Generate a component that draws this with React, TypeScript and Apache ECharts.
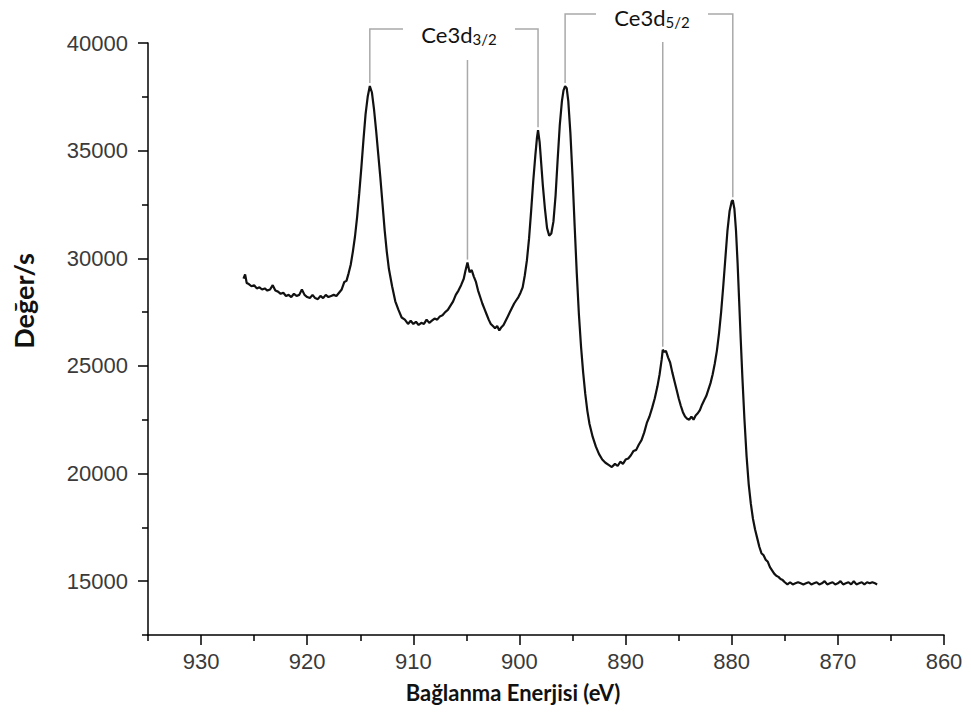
import React, { useEffect, useRef } from "react";
import * as echarts from "echarts";

// [binding energy (eV), counts/s]
const spectrum: [number, number][] = [
  [926.0, 29050], [925.85, 29250], [925.7, 28850], [925.5, 28800], [925.25, 28700], [925.0, 28750],
  [924.75, 28600], [924.5, 28650], [924.25, 28550], [924.0, 28600], [923.75, 28500], [923.5, 28550],
  [923.25, 28750], [923.0, 28500], [922.75, 28450], [922.5, 28350], [922.25, 28400], [922.0, 28250],
  [921.75, 28300], [921.5, 28200], [921.25, 28350], [921.0, 28250], [920.75, 28300], [920.5, 28550],
  [920.25, 28300], [920.0, 28200], [919.75, 28150], [919.5, 28300], [919.25, 28150], [919.0, 28100],
  [918.75, 28250], [918.5, 28150], [918.25, 28300], [918.0, 28200], [917.75, 28250], [917.5, 28300],
  [917.25, 28250], [917.0, 28400], [916.75, 28550], [916.5, 28900], [916.3, 28950], [916.1, 29300],
  [915.9, 29700], [915.7, 30300], [915.5, 31000], [915.3, 31900], [915.1, 33000], [914.9, 34200],
  [914.7, 35500], [914.5, 36700], [914.3, 37500], [914.1, 38000], [913.9, 37700], [913.7, 36900],
  [913.5, 35900], [913.3, 34800], [913.1, 33700], [912.9, 32500], [912.7, 31300], [912.5, 30300],
  [912.3, 29500], [912.0, 28700], [911.7, 28000], [911.4, 27600], [911.1, 27250], [910.8, 27150],
  [910.5, 26950], [910.25, 27100], [910.0, 26950], [909.75, 27050], [909.5, 26900], [909.25, 27000],
  [909.0, 26950], [908.75, 27150], [908.5, 27000], [908.25, 27100], [908.0, 27200], [907.75, 27150],
  [907.5, 27300], [907.25, 27350], [907.0, 27500], [906.75, 27600], [906.5, 27800], [906.25, 28000],
  [906.0, 28300], [905.75, 28500], [905.5, 28750], [905.25, 29050], [905.1, 29400], [904.9, 29800],
  [904.7, 29350], [904.5, 29450], [904.3, 29150], [904.1, 28900], [903.9, 28500], [903.7, 28200],
  [903.5, 27900], [903.3, 27650], [903.1, 27400], [902.9, 27150], [902.7, 26950], [902.5, 26850],
  [902.3, 26750], [902.1, 26850], [901.9, 26650], [901.7, 26800], [901.5, 26900], [901.3, 27100],
  [901.1, 27300], [900.9, 27500], [900.7, 27700], [900.5, 27900], [900.3, 28050], [900.1, 28200],
  [899.9, 28400], [899.7, 28650], [899.5, 29200], [899.3, 29900], [899.1, 30900], [898.9, 32200],
  [898.7, 33600], [898.5, 34800], [898.35, 35600], [898.25, 35950], [898.1, 35400], [897.95, 34400],
  [897.8, 33400], [897.6, 32300], [897.4, 31400], [897.2, 31050], [897.0, 31150], [896.8, 31700],
  [896.6, 32900], [896.4, 34600], [896.2, 36200], [896.0, 37300], [895.85, 37800], [895.7, 38000],
  [895.55, 37900], [895.4, 37300], [895.2, 35800], [895.0, 33800], [894.8, 31500], [894.6, 29300],
  [894.4, 27400], [894.2, 25900], [894.0, 24700], [893.8, 23700], [893.6, 22900], [893.4, 22300],
  [893.1, 21700], [892.8, 21250], [892.5, 20900], [892.2, 20650], [891.9, 20500], [891.6, 20400],
  [891.3, 20300], [891.0, 20450], [890.75, 20350], [890.5, 20550], [890.25, 20450], [890.0, 20650],
  [889.75, 20700], [889.5, 20850], [889.25, 21050], [889.0, 21100], [888.75, 21350], [888.5, 21550],
  [888.25, 21900], [888.0, 22350], [887.75, 22650], [887.5, 23050], [887.25, 23500], [887.0, 24050],
  [886.8, 24600], [886.6, 25300], [886.5, 25750], [886.35, 25650], [886.2, 25700], [886.0, 25400],
  [885.8, 25150], [885.6, 24700], [885.4, 24300], [885.2, 23900], [885.0, 23500], [884.8, 23150],
  [884.6, 22850], [884.4, 22650], [884.2, 22550], [884.0, 22500], [883.8, 22650], [883.6, 22500],
  [883.4, 22700], [883.2, 22800], [883.0, 22950], [882.8, 23200], [882.6, 23400], [882.4, 23600],
  [882.2, 23900], [882.0, 24200], [881.8, 24600], [881.6, 25100], [881.4, 25700], [881.2, 26500],
  [881.0, 27500], [880.8, 28700], [880.6, 30000], [880.4, 31300], [880.2, 32200], [880.0, 32650],
  [879.9, 32700], [879.75, 32300], [879.6, 31300], [879.45, 29800], [879.3, 28000], [879.15, 26200],
  [879.0, 24500], [878.8, 22500], [878.6, 20800], [878.4, 19500], [878.2, 18600], [878.0, 17900],
  [877.8, 17400], [877.6, 17000], [877.4, 16600], [877.2, 16300], [877.0, 16200], [876.8, 16000],
  [876.6, 15900], [876.4, 15650], [876.2, 15500], [876.0, 15350], [875.8, 15250], [875.6, 15200],
  [875.4, 15100], [875.2, 15050], [875.0, 14950], [874.75, 14850], [874.5, 14950], [874.25, 14850],
  [874.0, 14900], [873.75, 14950], [873.5, 14900], [873.25, 14850], [873.0, 14900], [872.75, 14950],
  [872.5, 14850], [872.25, 14900], [872.0, 14950], [871.75, 14850], [871.5, 14900], [871.25, 15000],
  [871.0, 14850], [870.75, 14900], [870.5, 14950], [870.25, 14850], [870.0, 14900], [869.75, 15000],
  [869.5, 14850], [869.25, 14900], [869.0, 14950], [868.75, 14850], [868.5, 15000], [868.25, 14850],
  [868.0, 14900], [867.75, 14950], [867.5, 14850], [867.25, 14950], [867.0, 14900], [866.75, 14950],
  [866.5, 14900], [866.3, 14850],
];

const xMajorTicks = [930, 920, 910, 900, 890, 880, 870, 860];
const xMinorTicks = [935, 925, 915, 905, 895, 885, 875, 865];
const yMajorTicks = [15000, 20000, 25000, 30000, 35000, 40000];
const yMinorTicks = [12500, 17500, 22500, 27500, 32500, 37500];

const peaks32 = [914.1, 904.9, 898.25];
const peaks52 = [895.7, 886.5, 879.9];

const xName = "Bağlanma Enerjisi (eV)";
const yName = "Değer/s";
const label32 = ["Ce3d", "3/2"];
const label52 = ["Ce3d", "5/2"];

const peakCount = (e: number) =>
  spectrum.reduce((best, p) => (Math.abs(p[0] - e) < Math.abs(best[0] - e) ? p : best))[1];

const LABEL_FONT = "'Liberation Sans', Arial, sans-serif";
const NAME_FONT = "Lato, 'Open Sans', sans-serif";

export default function App() {
  const ref = useRef<HTMLDivElement>(null);

  useEffect(() => {
    const chart = echarts.init(ref.current!, null, { renderer: "svg" });
    const axisLine = { show: true, lineStyle: { color: "#000", width: 1.5 } };
    const xBase = { type: "value", min: 860, max: 935, inverse: true, position: "bottom", splitLine: { show: false } };
    const yBase = { type: "value", min: 12500, max: 40000, position: "left", splitLine: { show: false } };

    chart.setOption({
      animation: false,
      backgroundColor: "#fff",
      grid: { left: 148, right: 27, top: 43, bottom: 87, containLabel: false, outerBoundsMode: "none" },
      xAxis: [
        {
          ...xBase,
          axisLine,
          axisTick: { show: true, customValues: xMajorTicks, length: 10, lineStyle: { color: "#000", width: 1.5 } },
          axisLabel: {
            show: true,
            customValues: xMajorTicks,
            formatter: (v: number) => String(v),
            fontSize: 22,
            fontFamily: LABEL_FONT,
            color: "#3a3a3a",
            margin: 15,
          },
        },
        {
          ...xBase,
          axisLine: { show: false },
          axisTick: { show: true, customValues: xMinorTicks, length: 6, lineStyle: { color: "#000", width: 1.5 } },
          axisLabel: { show: false },
        },
      ],
      yAxis: [
        {
          ...yBase,
          axisLine,
          axisTick: { show: true, customValues: yMajorTicks, length: 10, lineStyle: { color: "#000", width: 1.5 } },
          axisLabel: {
            show: true,
            customValues: yMajorTicks,
            formatter: (v: number) => String(v),
            fontSize: 22,
            fontFamily: LABEL_FONT,
            color: "#3a3a3a",
            margin: 20,
          },
        },
        {
          ...yBase,
          axisLine: { show: false },
          axisTick: { show: true, customValues: yMinorTicks, length: 6, lineStyle: { color: "#000", width: 1.5 } },
          axisLabel: { show: false },
        },
      ],
      series: [
        {
          type: "line",
          xAxisIndex: 0,
          yAxisIndex: 0,
          data: spectrum,
          showSymbol: false,
          symbol: "none",
          lineStyle: { color: "#111", width: 2.2 },
          silent: true,
        },
      ],
    });

    const toPx = (e: number) => chart.convertToPixel({ seriesIndex: 0 }, [e, peakCount(e)]) as number[];
    const lineStyle = { stroke: "#a9a9a9", lineWidth: 1.5, fill: "none" };
    const graphics: any[] = [];
    const addBracket = (peaks: number[], topY: number, textCx: number, textCy: number, midTop: number, txt: string[]) => {
      const [l, m, r] = peaks.map(toPx);
      const gap = 56;
      graphics.push({
        type: "polyline",
        shape: { points: [[l[0], l[1] - 3], [l[0], topY], [textCx - gap, topY]] },
        style: lineStyle,
        silent: true,
      });
      graphics.push({
        type: "polyline",
        shape: { points: [[textCx + gap, topY], [r[0], topY], [r[0], r[1] - 3]] },
        style: lineStyle,
        silent: true,
      });
      graphics.push({
        type: "line",
        shape: { x1: m[0], y1: midTop, x2: m[0], y2: m[1] - 3 },
        style: lineStyle,
        silent: true,
      });
      graphics.push({
        type: "text",
        x: textCx,
        y: textCy,
        silent: true,
        style: {
          text: `{m|${txt[0]}}{s|${txt[1]}}`,
          align: "center",
          verticalAlign: "middle",
          rich: {
            m: { fontSize: 22, fontFamily: NAME_FONT, fill: "#111", color: "#111" },
            s: { fontSize: 15, fontFamily: NAME_FONT, fill: "#111", color: "#111", padding: [10, 0, 0, 0] },
          },
        },
      });
    };
    addBracket(peaks32, 29, 459, 34, 60, label32);
    addBracket(peaks52, 14, 652, 17, 42, label52);

    graphics.push({
      type: "text",
      x: 513,
      y: 692,
      silent: true,
      style: {
        text: xName,
        align: "center",
        verticalAlign: "middle",
        fontSize: 22,
        fontWeight: "bold",
        fontFamily: NAME_FONT,
        fill: "#111",
      },
    });
    graphics.push({
      type: "text",
      x: 23,
      y: 301,
      rotation: Math.PI / 2,
      silent: true,
      style: {
        text: yName,
        align: "center",
        verticalAlign: "middle",
        fontSize: 27,
        fontWeight: "bold",
        fontFamily: NAME_FONT,
        fill: "#111",
      },
    });

    chart.setOption({ graphic: graphics });
    return () => chart.dispose();
  }, []);

  return <div ref={ref} style={{ position: "fixed", left: 0, top: 0, width: 971, height: 722 }} />;
}
